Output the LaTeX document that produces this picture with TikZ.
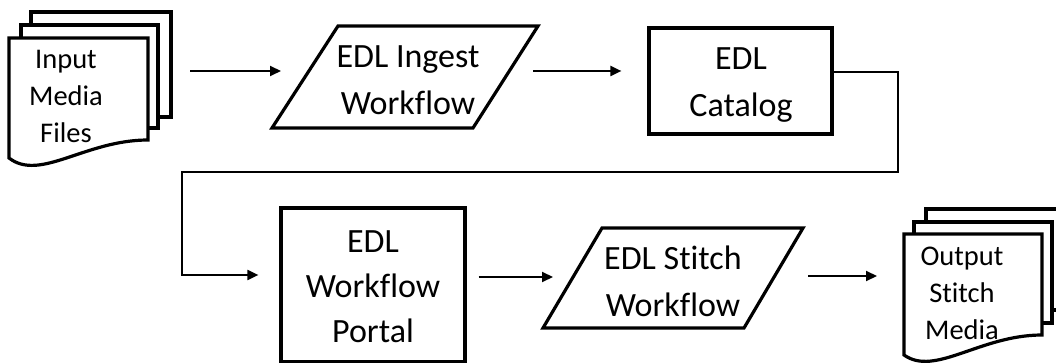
\documentclass[tikz,border=0pt]{standalone}
\usepackage{fontspec}
\setmainfont{Carlito}[Ligatures={NoCommon,NoContextual}]
\usetikzlibrary{arrows.meta}
\begin{document}
\begin{tikzpicture}[x=1pt,y=-1pt,
  shp/.style={draw=black, line width=3.2pt, fill=white, line join=miter},
  boxnode/.style={shp, inner sep=0pt},
  conn/.style={draw=black, line width=2pt},
  arr/.style={conn, -{Triangle[length=11pt,width=10pt]}},
  bigtext/.style={font=\fontsize{34}{47}\selectfont, align=center, inner sep=0pt},
  doctext/.style={font=\fontsize{28.5}{37}\selectfont, align=center, inner sep=0pt}]
\useasboundingbox[fill=white] (0,0) rectangle (1056,363);

% Input media files (multi-document)
\draw[shp] (31,12) rectangle (171,117);
\draw[shp] (21,25) rectangle (158,128);
\draw[shp] (9,38) -- (148,38) -- (148,140) .. controls (85,140) and (40,182) .. (9,158) -- cycle;
\node[doctext] (inp) at (66,96) {Input\\Media\\Files};
\coordinate (inpR) at (171,71);

% EDL Ingest Workflow (parallelogram)
\draw[shp] (272,128) -- (338,26) -- (538,26) -- (473,128) -- cycle;
\node[bigtext] (ing) at (408,80) {EDL Ingest\\Workflow};
\coordinate (ingL) at (272,71);
\coordinate (ingR) at (510,71);

% EDL Catalog
\node[boxnode, minimum width=183pt, minimum height=106pt] (cat) at (740.5,81) {};
\node[bigtext] (catt) at (741,85) {EDL\\Catalog};

% EDL Workflow Portal
\node[boxnode, minimum width=184pt, minimum height=154pt] (por) at (373,285) {};
\node[bigtext, font=\fontsize{34}{45}\selectfont] (port) at (373,287) {EDL\\Workflow\\Portal};

% EDL Stitch Workflow (parallelogram)
\draw[shp] (543,328) -- (602,228) -- (803,228) -- (744,328) -- cycle;
\node[bigtext] (sti) at (673,281) {EDL Stitch\\Workflow};
\coordinate (stiL) at (573,277);
\coordinate (stiR) at (773,276);

% Output stitch media (multi-document)
\draw[shp] (926,209) rectangle (1070,310);
\draw[shp] (914,222) rectangle (1052,323);
\draw[shp] (904,234) -- (1042,234) -- (1042,335) .. controls (980,335) and (935,377) .. (904,355) -- cycle;
\node[doctext] (out) at (962,293) {Output\\Stitch\\Media};
\coordinate (outL) at (904,276);

% connectors
\draw[arr] ([xshift=19pt]inpR) -- ([xshift=9pt]ingL);
\draw[arr] ([xshift=23pt]ingR) -- ([yshift=10pt,xshift=-26pt]cat.west);
\coordinate (bendA) at (898,72);
\coordinate (bendB) at (898,172);
\coordinate (bendC) at (182,172);
\coordinate (bendD) at (182,275);
\draw[arr] ([yshift=9pt]cat.east) -- (bendA) -- (bendB) -- (bendC) -- (bendD) -- ([yshift=10pt,xshift=-21pt]por.west);
\draw[arr] ([yshift=8pt,xshift=12pt]por.east) -- ([xshift=-20pt]stiL);
\draw[arr] ([xshift=35pt]stiR) -- ([xshift=-27pt]outL);
\end{tikzpicture}
\end{document}
